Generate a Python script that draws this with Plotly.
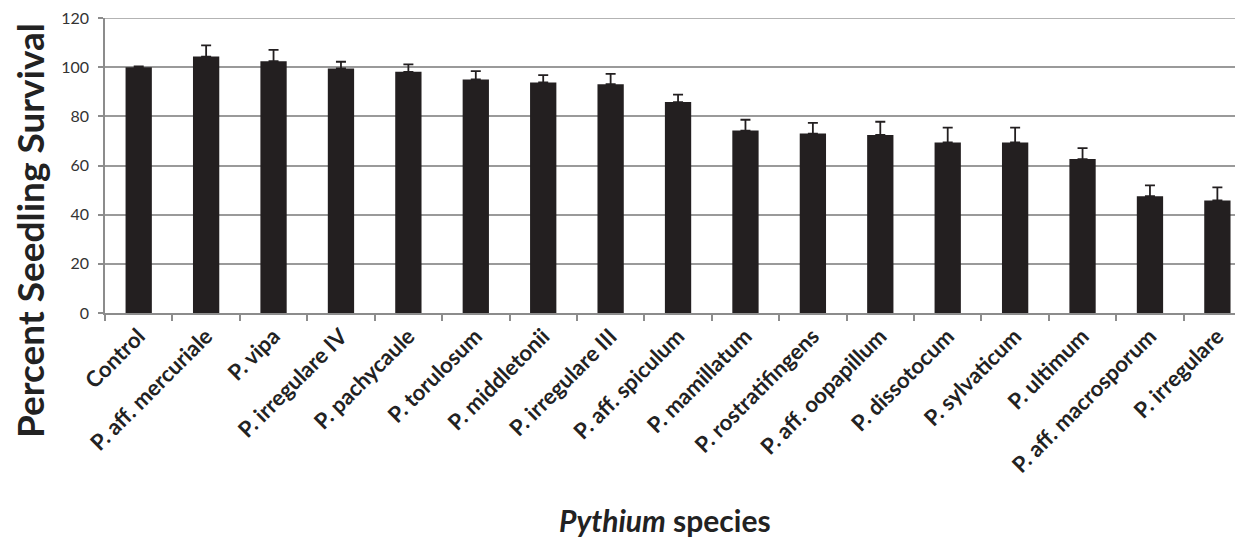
import plotly.graph_objects as go

species = ["Control", "P. aff. mercuriale", "P. vipa", "P. irregulare IV", "P. pachycaule",
           "P. torulosum", "P. middletonii", "P. irregulare III", "P. aff. spiculum",
           "P. mamillatum", "P. rostratifingens", "P. aff. oopapillum", "P. dissotocum",
           "P. sylvaticum", "P. ultimum", "P. aff. macrosporum", "P. irregulare"]
survival = [100, 104.3, 102.4, 99.5, 98.1, 95.0, 93.8, 93.1, 85.8, 74.2, 73.0, 72.4, 69.4, 69.4, 62.6, 47.5, 45.8]
errors = [0.3, 4.6, 4.6, 2.7, 3.0, 3.4, 3.0, 4.2, 3.0, 4.4, 4.3, 5.4, 6.0, 6.0, 4.5, 4.4, 5.3]
y_ticks = [0, 20, 40, 60, 80, 100, 120]

FONT = "Lato"
GRID = "#9a9a9a"

fig = go.Figure(go.Bar(
    x=species, y=survival,
    marker=dict(color="#231f20", line=dict(width=0)),
    width=0.39,
    error_y=dict(type="data", array=errors, symmetric=False, arrayminus=[0]*len(errors),
                 color="#231f20", thickness=1.8, width=5),
))

fig.update_layout(
    width=1235, height=535,
    margin=dict(l=97, r=0, t=10, b=230, autoexpand=False),
    paper_bgcolor="white", plot_bgcolor="white",
    showlegend=False,
    xaxis=dict(
        type="category",
        tickmode="array", tickvals=species,
        ticktext=[f"<b>{s}</b>" for s in species],
        range=[-0.5, 16.38], tickangle=-45, tickson="boundaries",
        showline=True, linecolor="#8c8c8c", linewidth=1.5,
        ticks="outside", ticklen=6, tickcolor="#8c8c8c", tickwidth=1.5,
        showgrid=False, zeroline=False, automargin=False,
        tickfont=dict(family=FONT, size=22, color="#222"),
    ),
    yaxis=dict(
        range=[0, y_ticks[-1]], tickvals=y_ticks,
        showline=True, linecolor="#8c8c8c", linewidth=1.5,
        ticks="outside", ticklen=5, tickcolor="#8c8c8c", tickwidth=1.5,
        showgrid=True, gridcolor=GRID, gridwidth=1.5,
        zeroline=False, automargin=False, ticklabelstandoff=6,
        ticklabeloverflow="allow",
        tickfont=dict(family=FONT, size=16, color="#333"),
    ),
    shapes=[dict(type="line", xref="paper", yref="y", x0=0, x1=1,
                 y0=y_ticks[-1], y1=y_ticks[-1], line=dict(color=GRID, width=1.5), layer="below")],
    annotations=[
        dict(text="<b>Percent Seedling Survival</b>", xref="paper", yref="paper",
             x=(22 - 97) / 1138, y=(305 - 223) / 295, xanchor="center", yanchor="middle",
             textangle=-90, showarrow=False, font=dict(family=FONT, size=37, color="#222")),
        dict(text="<b><i>Pythium</i> species</b>", xref="paper", yref="paper",
             x=(657 - 97) / 1138, y=(305 - 512) / 295, xanchor="center", yanchor="middle",
             showarrow=False, font=dict(family=FONT, size=30, color="#222")),
    ],
)

fig.write_html("out.html")
